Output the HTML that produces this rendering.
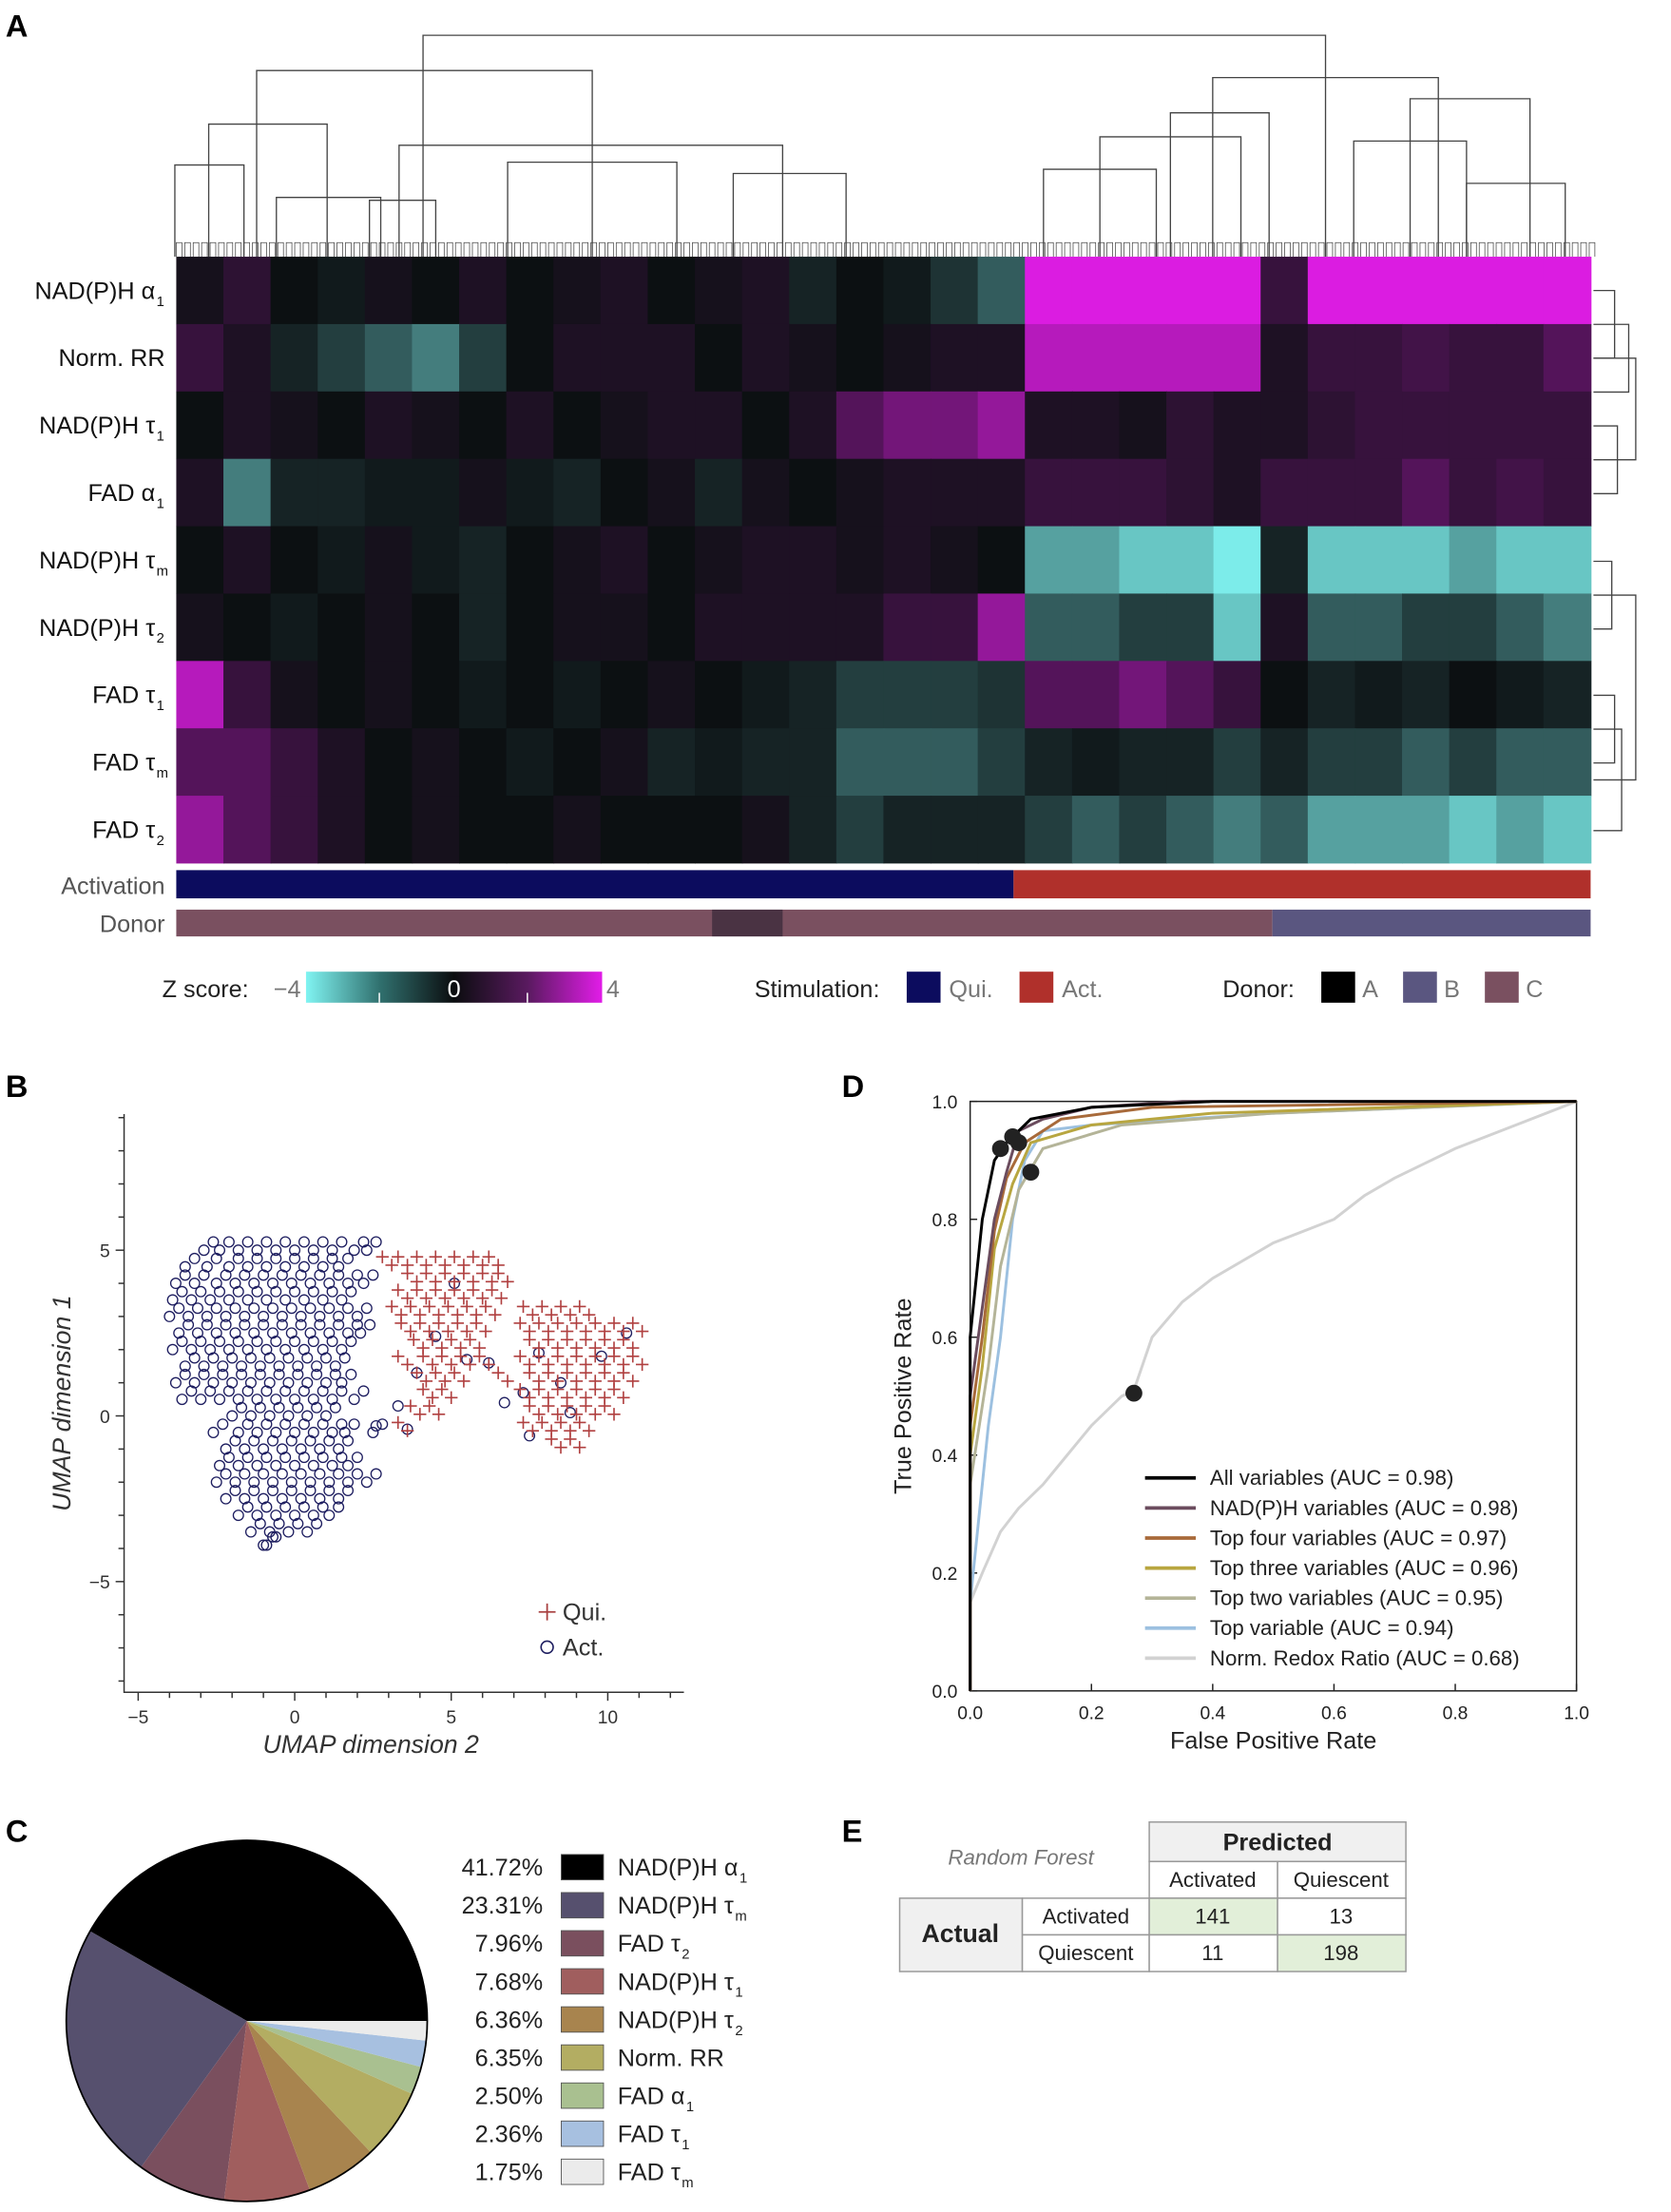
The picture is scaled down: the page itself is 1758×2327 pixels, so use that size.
<!DOCTYPE html>
<html><head><meta charset="utf-8"><style>
html,body{margin:0;padding:0;background:#fff}
svg{display:block;font-family:"Liberation Sans",sans-serif}
</style></head><body>
<svg id="fig" width="1758" height="2327" viewBox="0 0 1185 1568.5" xmlns="http://www.w3.org/2000/svg">
<rect width="1185" height="1568.5" fill="#fff"/>
<g id="A">
<text x="4" y="26" font-size="22" font-weight="bold">A</text>
<g id="dendro" stroke="#444" stroke-width="0.9" fill="none"></g>
<g id="rdendro" stroke="#444" stroke-width="0.9" fill="none"></g>
<g id="heat"></g>
<g id="rowlabels" font-size="17" fill="#111"></g>
<text x="117" y="634" font-size="17" text-anchor="end" fill="#555">Activation</text>
<text x="117" y="661" font-size="17" text-anchor="end" fill="#555">Donor</text>
<g id="actbar"></g>
<g id="donbar"></g>
<g>
<defs><linearGradient id="zg" x1="0" x2="1"><stop offset="0" stop-color="#80f4f2"/><stop offset="0.25" stop-color="#30706e"/><stop offset="0.5" stop-color="#0b0d0f"/><stop offset="0.75" stop-color="#5a1a60"/><stop offset="1" stop-color="#e21ce8"/></linearGradient></defs>
<text x="115" y="707" font-size="17" fill="#222">Z score:</text>
<text x="194" y="707" font-size="17" fill="#777">−4</text>
<rect x="217" y="689" width="210" height="22" fill="url(#zg)"/>
<line x1="269" y1="704" x2="269" y2="711" stroke="#fff"/><line x1="374" y1="704" x2="374" y2="711" stroke="#fff"/>
<text x="322" y="707" font-size="17" fill="#fff" text-anchor="middle">0</text>
<text x="430" y="707" font-size="17" fill="#777">4</text>
</g>
<g>
<text x="535" y="707" font-size="17" fill="#222">Stimulation:</text>
<rect x="643" y="689" width="24" height="22" fill="#0c0c5e"/><text x="673" y="707" font-size="17" fill="#777">Qui.</text>
<rect x="723" y="689" width="24" height="22" fill="#b0302b"/><text x="753" y="707" font-size="17" fill="#777">Act.</text>
</g>
<g>
<text x="867" y="707" font-size="17" fill="#222">Donor:</text>
<rect x="937" y="689" width="24" height="22" fill="#000"/><text x="966" y="707" font-size="17" fill="#777">A</text>
<rect x="995" y="689" width="24" height="22" fill="#5a5680"/><text x="1024" y="707" font-size="17" fill="#777">B</text>
<rect x="1053" y="689" width="24" height="22" fill="#7a5060"/><text x="1082" y="707" font-size="17" fill="#777">C</text>
</g>
</g>

<g id="B">
<text x="4" y="778" font-size="22" font-weight="bold">B</text>
<g id="scAxes"></g>
<g id="scPts"></g>
<g>
<path d="M382 1143h12M388 1137v12" stroke="#a84040" stroke-width="1.2"/><text x="399" y="1149" font-size="17" fill="#333">Qui.</text>
<circle cx="388" cy="1168" r="4.3" fill="none" stroke="#1e1e60" stroke-width="1.1"/><text x="399" y="1174" font-size="17" fill="#333">Act.</text>
</g>
<text x="263" y="1243" font-size="18" font-style="italic" fill="#333" text-anchor="middle">UMAP dimension 2</text>
<text transform="translate(50,995) rotate(-90)" font-size="18" font-style="italic" fill="#333" text-anchor="middle">UMAP dimension 1</text>
</g>

<g id="D">
<text x="597" y="778" font-size="22" font-weight="bold">D</text>
<g id="roc"></g>
<text x="903" y="1240" font-size="17" fill="#222" text-anchor="middle">False Positive Rate</text>
<text transform="translate(646,990) rotate(-90)" font-size="17" fill="#222" text-anchor="middle">True Positive Rate</text>
</g>

<g id="C">
<text x="4" y="1306" font-size="22" font-weight="bold">C</text>
<g id="pie"></g>
<g id="pieleg" font-size="17" fill="#222"></g>
</g>

<g id="E">
<text x="597" y="1306" font-size="22" font-weight="bold">E</text>
<text x="724" y="1322" font-size="15" font-style="italic" fill="#777" text-anchor="middle">Random Forest</text>
<g stroke="#999" stroke-width="1" font-size="15" fill="#222">
<rect x="815" y="1292" width="182" height="28" fill="#f0f0f0"/>
<rect x="815" y="1320" width="91" height="26" fill="#fff"/><rect x="906" y="1320" width="91" height="26" fill="#fff"/>
<rect x="638" y="1346" width="87" height="52" fill="#f0f0f0"/>
<rect x="725" y="1346" width="90" height="26" fill="#fff"/><rect x="725" y="1372" width="90" height="26" fill="#fff"/>
<rect x="815" y="1346" width="91" height="26" fill="#e2efd9"/><rect x="906" y="1346" width="91" height="26" fill="#fff"/>
<rect x="815" y="1372" width="91" height="26" fill="#fff"/><rect x="906" y="1372" width="91" height="26" fill="#e2efd9"/>
<g stroke="none" text-anchor="middle">
<text x="906" y="1312" font-size="17" font-weight="bold">Predicted</text>
<text x="860" y="1338">Activated</text><text x="951" y="1338">Quiescent</text>
<text x="681" y="1377" font-size="18" font-weight="bold">Actual</text>
<text x="770" y="1364">Activated</text><text x="770" y="1390">Quiescent</text>
<text x="860" y="1364">141</text><text x="951" y="1364">13</text>
<text x="860" y="1390">11</text><text x="951" y="1390">198</text>
</g></g>
</g>
</svg>
<script>
const NS='http://www.w3.org/2000/svg';
function mk(t,a,p){const e=document.createElementNS(NS,t);for(const k in a)e.setAttribute(k,a[k]);p.appendChild(e);return e;}

// ---------- Heatmap data ----------
const rowNames=['NAD(P)H α','Norm. RR','NAD(P)H τ','FAD α','NAD(P)H τ','NAD(P)H τ','FAD τ','FAD τ','FAD τ'];
const rowSubs=['1','','1','1','m','2','1','m','2'];
const zNADa1=[0.3,0.8,0,-0.3,0.3,0,0.5,0,0.3,0.5,0,0.3,0.5,-0.5,0,-0.3,-0.8,-1.5,3.5,3.5,3.5,3.5,3.5,1,3.5,3.5,3.5,3.5,3.5,3.5];
const zRR=[1,0.5,-0.5,-1,-1.5,-2,-1,0,0.5,0.5,0.5,0,0.5,0.3,0,0.3,0.5,0.5,3,3,3,3,3,0.5,1,1,1.2,1,1,1.5];
const zNADt1=[0,0.5,0.3,0,0.5,0.3,0,0.5,0,0.3,0.5,0.5,0,0.5,1.5,2,2,2.5,0.5,0.5,0.3,0.8,0.5,0.5,0.8,1,1,1,1,1];
const zFADa1=[0.5,-2,-0.5,-0.5,-0.3,-0.3,0.3,-0.3,-0.5,0,0.3,-0.5,0.3,0,0.3,0.5,0.5,0.5,1,1,1,0.8,0.5,1,1,1,1.5,1,1.2,1];
const zNADtm=[0,0.5,0,-0.3,0.3,-0.3,-0.5,0,0.3,0.5,0,0.3,0.5,0.5,0.3,0.5,0.3,0,-2.5,-2.5,-3,-3,-3.5,-0.5,-3,-3,-3,-2.5,-3,-3];
const zNADt2=[0.3,0,-0.3,0,0.3,0,-0.5,0,0.3,0.3,0,0.5,0.5,0.5,0.5,1,1,2.5,-1.5,-1.5,-1,-1,-3,0.5,-1.5,-1.5,-1,-1,-1.5,-2];
const zFADt1=[3,1,0.3,0,0.3,0,-0.3,0,-0.3,0,0.3,0,-0.3,-0.5,-1,-1,-1,-0.8,1.5,1.5,2,1.5,1,0,-0.5,-0.3,-0.5,0,-0.3,-0.5];
const zFADtm=[1.5,1.5,1,0.5,0,0.3,0,-0.3,0,0.3,-0.5,-0.3,-0.5,-0.5,-1.5,-1.5,-1.5,-1,-0.5,-0.3,-0.5,-0.5,-1,-0.5,-1,-1,-1.5,-1,-1.5,-1.5];
const zFADt2=[2.5,1.5,1,0.5,0,0.3,0,0,0.3,0,0,0,0.3,-0.5,-1,-0.5,-0.5,-0.5,-1,-1.5,-1,-1.5,-2,-1.5,-2.5,-2.5,-2.5,-3,-2.5,-3];
const zRows=[zNADa1,zRR,zNADt1,zFADa1,zNADtm,zNADt2,zFADt1,zFADtm,zFADt2];
const actSplit=[0.592];
const donorSplit=[0.775];

const HX0=125,HX1=1128,HY0=182,HY1=612;
function zcol(v){v=Math.max(-4,Math.min(4,v));const k=Math.min(1,Math.abs(v)/3.6);
 const base=[12,16,18];const tgt=v<0?[128,244,242]:[226,28,232];
 const c=base.map((b,i)=>Math.round(b+(tgt[i]-b)*Math.pow(k,1.25)));return 'rgb('+c.join(',')+')';}
const heatG=document.getElementById('heat');
const lg=document.getElementById('rowlabels');
const rh=(HY1-HY0)/zRows.length;
zRows.forEach((row,r)=>{const cw=(HX1-HX0)/row.length;
 row.forEach((v,c)=>{const e=mk('rect',{x:HX0+c*cw,y:HY0+r*rh,width:cw+0.6,height:rh+0.3,fill:zcol(v)},heatG);
  
  });
 const t=mk('text',{x:rowSubs[r]?110:117,y:HY0+r*rh+rh/2+6,'text-anchor':'end'},lg);
 
 
 t.textContent=rowNames[r];
 if(rowSubs[r]){const s=mk('text',{x:111,y:HY0+r*rh+rh/2+11,'font-size':10},lg);s.textContent=rowSubs[r];}
});
const ab=document.getElementById('actbar');
mk('rect',{x:HX0,y:617,width:(HX1-HX0)*actSplit[0],height:20,fill:'#0c0c5e'},ab);
mk('rect',{x:HX0+(HX1-HX0)*actSplit[0],y:617,width:(HX1-HX0)*(1-actSplit[0]),height:20,fill:'#b0302b'},ab);
const db=document.getElementById('donbar');
mk('rect',{x:HX0,y:645,width:(HX1-HX0)*donorSplit[0],height:19,fill:'#7a5060'},db);
mk('rect',{x:HX0+(HX1-HX0)*donorSplit[0],y:645,width:(HX1-HX0)*(1-donorSplit[0]),height:19,fill:'#5a5680'},db);
mk('rect',{x:505,y:645,width:50,height:19,fill:'#2a2030',opacity:0.6},db);

// ---------- dendrograms ----------
const dg=document.getElementById('dendro');
const dLinks=[[300,475,940,25],[182,300,420,50],[860,940,1020,55],[148,182,232,88],[283,420,555,103],[830,860,900,80],[1000,1020,1085,70],[124,148,173,117],[196,232,270,140],[262,283,309,142],[360,420,480,115],[520,555,600,123],[780,830,880,97],[740,780,820,120],[960,1000,1040,100],[1040,1085,1110,130]];
dLinks.forEach(l=>{mk('path',{d:'M'+l[0]+' 182V'+l[3]+'H'+l[2]+'V182'},dg);});
for(let x=HX0;x<HX1;x+=6){mk('path',{d:'M'+x+' 182V172H'+(x+4)+'V182','stroke-width':0.5},dg);}
const rd=document.getElementById('rdendro');
[[206,254,1145],[230,278,1155],[302,350,1147],[254,326,1160],[398,446,1143],[493,541,1145],[517,589,1150],[422,553,1160]].forEach(l=>{mk('path',{d:'M1130 '+l[0]+'H'+l[2]+'V'+l[1]+'H1130'},rd);});

// ---------- UMAP scatter ----------
const blueRows=[[5,[-2.9,-2.4,-1.8,-1.2,-0.6,0,0.6,1.2,1.9,2.3]],[4.5,[-3.5,-2.8,-2.1,-1.5,-0.9,-0.3,0.3,0.9,1.4]],[4,[-3.8,-3.2,-2.5,-1.9,-1.3,-0.7,-0.1,0.5,1.1,1.7,2.2]],[3.5,[-3.9,-3.3,-2.7,-2.1,-1.5,-0.9,-0.3,0.3,0.9,1.5]],[3,[-4,-3.4,-2.8,-2.2,-1.6,-1,-0.4,0.2,0.8,1.4,2]],[2.5,[-3.7,-3.1,-2.5,-1.9,-1.3,-0.7,-0.1,0.5,1.1,1.7,2.1]],[2,[-3.9,-3.3,-2.7,-2.1,-1.5,-0.9,-0.3,0.3,0.9,1.5]],[1.5,[-3.5,-2.9,-2.3,-1.7,-1.1,-0.5,0.1,0.7,1.3]],[1,[-3.8,-3.2,-2.6,-2,-1.4,-0.8,-0.2,0.4,1,1.5]],[0.5,[-3.6,-3,-2.4,-1.8,-1.2,-0.6,0,0.6,1.2,1.9]],[0,[-2,-1.4,-0.8,-0.2,0.4,1]],[-0.5,[-2.6,-1.8,-1.2,-0.6,0,0.6,1.2,1.6,2.5]],[-1,[-2.2,-1.6,-1,-0.4,0.2,0.8,1.4]],[-1.5,[-2.4,-1.8,-1.2,-0.6,0,0.6,1.2,1.7]],[-2,[-2.5,-1.9,-1.3,-0.7,-0.1,0.5,1.1,1.7,2.3]],[-2.5,[-2.2,-1.6,-1,-0.4,0.2,0.8,1.4]],[-3,[-1.8,-1.2,-0.6,0,0.6,1.1]],[-3.5,[-1.4,-0.8,-0.2,0.4]],[-3.9,[-1,-0.9]]];
const blueExtraX=[3.3,3.9,4.5,5.5,6.2,7.3,7.8,8.5,9.8,10.6,8.8,5.1,7.5,6.7,3.6,2.6];
const blueExtraY=[0.3,1.3,2.4,1.7,1.6,0.7,1.9,1,1.8,2.5,0.1,4,-0.6,0.4,-0.4,-0.3];
const redRows=[[4.8,[2.8,3.3,3.9,4.5,5.1,5.7,6.2]],[4.3,[3.6,4.2,4.8,5.4,6,6.5]],[3.8,[3.3,3.9,4.5,5.1,5.7,6.3]],[3.3,[3.1,3.7,4.3,4.9,5.5,6.1,7.3,7.9,8.5,9.1]],[2.8,[3.4,4,4.6,5.2,5.8,7.2,7.8,8.4,9,9.6,10.2,10.8]],[2.3,[3.8,4.4,5,5.6,7.5,8.1,8.7,9.3,9.9,10.5]],[1.8,[3.3,4.1,4.7,5.3,5.9,7.2,7.8,8.4,9,9.6,10.2,10.8]],[1.3,[3.9,4.5,5.1,6.5,7.5,8.1,8.7,9.3,9.9,10.5]],[0.8,[4.1,4.7,7.2,7.8,8.4,9,9.6,10.2]],[0.3,[3.7,4.3,7.5,8.1,8.7,9.3,9.9]],[-0.2,[3.3,7.3,7.9,8.5,9.1]],[-0.7,[8.2,8.8]]];
const xTicks=[-5,0,5,10], yTicks=[-5,0,5];
const sx=x=>209+x*22.2, sy=y=>1004-y*23.5;
const sa=document.getElementById('scAxes');
mk('path',{d:'M88 790V1200H485',stroke:'#333',fill:'none','stroke-width':1},sa);
for(let v=-5;v<=12;v++){mk('line',{x1:sx(v),x2:sx(v),y1:1200,y2:v%5==0?1206:1204,stroke:'#333'},sa);}
for(let v=-8;v<=9;v++){mk('line',{x1:88,x2:v%5==0?82:84,y1:sy(v),y2:sy(v),stroke:'#333'},sa);}
xTicks.forEach(v=>{const t=mk('text',{x:sx(v),y:1222,'font-size':13,'text-anchor':'middle',fill:'#333'},sa);t.textContent=v<0?'−'+(-v):v;});
yTicks.forEach(v=>{const t=mk('text',{x:78,y:sy(v)+5,'font-size':13,'text-anchor':'end',fill:'#333'},sa);t.textContent=v<0?'−'+(-v):v;});
const sp=document.getElementById('scPts');
function circ(x,y){const e=mk('circle',{cx:sx(x),cy:sy(y),r:3.6,fill:'none',stroke:'#1e1e60','stroke-width':0.9},sp);
 
 }
function plus(x,y){const X=sx(x),Y=sy(y);const e=mk('path',{d:'M'+(X-4.5)+' '+Y+'h9M'+X+' '+(Y-4.5)+'v9',stroke:'#b04040','stroke-width':1.1},sp);
 
 }
blueRows.forEach(r=>r[1].forEach(x=>{circ(x,r[0]);circ(x+0.3,r[0]+0.25);}));
blueExtraX.forEach((x,i)=>circ(x,blueExtraY[i]));
redRows.forEach(r=>r[1].forEach(x=>{plus(x,r[0]);plus(x+0.3,r[0]-0.25);}));

// ---------- ROC ----------
const rocNames=['All variables (AUC = 0.98)','NAD(P)H variables (AUC = 0.98)','Top four variables (AUC = 0.97)','Top three variables (AUC = 0.96)','Top two variables (AUC = 0.95)','Top variable (AUC = 0.94)','Norm. Redox Ratio (AUC = 0.68)'];
const rocColors=['#000','#6b4c5e','#a86a3a','#b8a640','#b4b498','#9cc0e0','#d2d2d2'];
const fprAll=[0,0,0.01,0.02,0.03,0.04,0.06,0.1,0.2,0.4,1], tprAll=[0,0.6,0.7,0.8,0.85,0.9,0.93,0.97,0.99,1,1];
const fprNad=[0,0,0.02,0.04,0.06,0.08,0.12,0.2,0.35,1], tprNad=[0,0.5,0.65,0.8,0.88,0.95,0.97,0.99,1,1];
const fprT4=[0,0,0.02,0.04,0.06,0.09,0.15,0.3,1], tprT4=[0,0.45,0.6,0.78,0.87,0.93,0.97,0.99,1];
const fprT3=[0,0,0.02,0.04,0.07,0.1,0.2,0.4,1], tprT3=[0,0.4,0.55,0.75,0.86,0.93,0.96,0.98,1];
const fprT2=[0,0,0.03,0.05,0.08,0.12,0.25,0.5,1], tprT2=[0,0.35,0.55,0.72,0.85,0.92,0.96,0.98,1];
const fprT1=[0,0,0.03,0.05,0.07,0.09,0.12,0.2,0.5,1], tprT1=[0,0.15,0.45,0.6,0.8,0.9,0.95,0.96,0.98,1];
const fprRR=[0,0,0.02,0.05,0.08,0.12,0.16,0.2,0.25,0.27,0.3,0.35,0.4,0.45,0.5,0.55,0.6,0.65,0.7,0.8,0.9,1], tprRR=[0,0.15,0.2,0.27,0.31,0.35,0.4,0.45,0.5,0.51,0.6,0.66,0.7,0.73,0.76,0.78,0.8,0.84,0.87,0.92,0.96,1];
const rocF=[fprAll,fprNad,fprT4,fprT3,fprT2,fprT1,fprRR], rocT=[tprAll,tprNad,tprT4,tprT3,tprT2,tprT1,tprRR];
const dotF=[0.05,0.07,0.08,0.1,0.27], dotT=[0.92,0.94,0.93,0.88,0.505];
const rTicks=['0.0','0.2','0.4','0.6','0.8','1.0'];
const rx=v=>688+v*430, ry=v=>1199-v*418;
const roc=document.getElementById('roc');
mk('rect',{x:688,y:781,width:430,height:418,fill:'none',stroke:'#222','stroke-width':1},roc);
rTicks.forEach(s=>{const v=+s;
 mk('line',{x1:rx(v),x2:rx(v),y1:1199,y2:1194,stroke:'#222'},roc);
 mk('line',{x1:688,x2:693,y1:ry(v),y2:ry(v),stroke:'#222'},roc);
 let t=mk('text',{x:rx(v),y:1219,'font-size':13,'text-anchor':'middle',fill:'#222'},roc);t.textContent=s;
 t=mk('text',{x:679,y:ry(v)+5,'font-size':13,'text-anchor':'end',fill:'#222'},roc);t.textContent=s;});
for(let i=6;i>=0;i--){const d=rocF[i].map((f,j)=>(j?'L':'M')+rx(f)+' '+ry(rocT[i][j])).join('');
 const p=mk('path',{d:d,fill:'none',stroke:rocColors[i],'stroke-width':2},roc);
 
 }
dotF.forEach((f,i)=>{const c=mk('circle',{cx:rx(f),cy:ry(dotT[i]),r:6,fill:'#222'},roc);
 
 });
rocNames.forEach((n,i)=>{const y=1048+i*21.3;
 mk('line',{x1:812,x2:848,y1:y,y2:y,stroke:rocColors[i],'stroke-width':2.5},roc);
 const t=mk('text',{x:858,y:y+5,'font-size':15,fill:'#222'},roc);
 
 
 t.textContent=n;});

// ---------- Pie ----------
const pieVals=[41.72,23.31,7.96,7.68,6.36,6.35,2.50,2.36,1.75];
const pieLabels=['NAD(P)H α','NAD(P)H τ','FAD τ','NAD(P)H τ','NAD(P)H τ','Norm. RR','FAD α','FAD τ','FAD τ'];
const pieSubs=['1','m','2','1','2','','1','1','m'];
const pieColors=['#000','#56506e','#7a4f5e','#a05e5e','#a8844e','#b3ad62','#a9c090','#a7c0e0','#ebebeb'];
const pg=document.getElementById('pie');const pcx=175,pcy=1433,R=128;
const tot=pieVals.reduce((a,b)=>a+b,0);let a0=0;
pieVals.forEach((v,i)=>{const a1=a0+v/tot*2*Math.PI;
 const x0=pcx+R*Math.cos(a0),y0=pcy-R*Math.sin(a0),x1=pcx+R*Math.cos(a1),y1=pcy-R*Math.sin(a1);
 const large=(a1-a0)>Math.PI?1:0;
 const p=mk('path',{d:'M'+pcx+' '+pcy+'L'+x0+' '+y0+'A'+R+' '+R+' 0 '+large+' 0 '+x1+' '+y1+'Z',fill:pieColors[i]},pg);
 
 
 a0=a1;});
mk('circle',{cx:pcx,cy:pcy,r:R,fill:'none',stroke:'#000','stroke-width':1.2},pg);
const pl=document.getElementById('pieleg');
pieVals.forEach((v,i)=>{const y=1324+i*27;
 let t=mk('text',{x:385,y:y+6,'text-anchor':'end'},pl);t.textContent=v.toFixed(2)+'%';
 mk('rect',{x:398,y:y-9,width:30,height:18,fill:pieColors[i],stroke:'#555','stroke-width':0.6},pl);
 t=mk('text',{x:438,y:y+6},pl);
 
 
 t.textContent=pieLabels[i];
 if(pieSubs[i]){const w=t.getComputedTextLength();const s=mk('text',{x:438+w+1,y:y+11,'font-size':10},pl);s.textContent=pieSubs[i];}});
</script>
</body></html>
